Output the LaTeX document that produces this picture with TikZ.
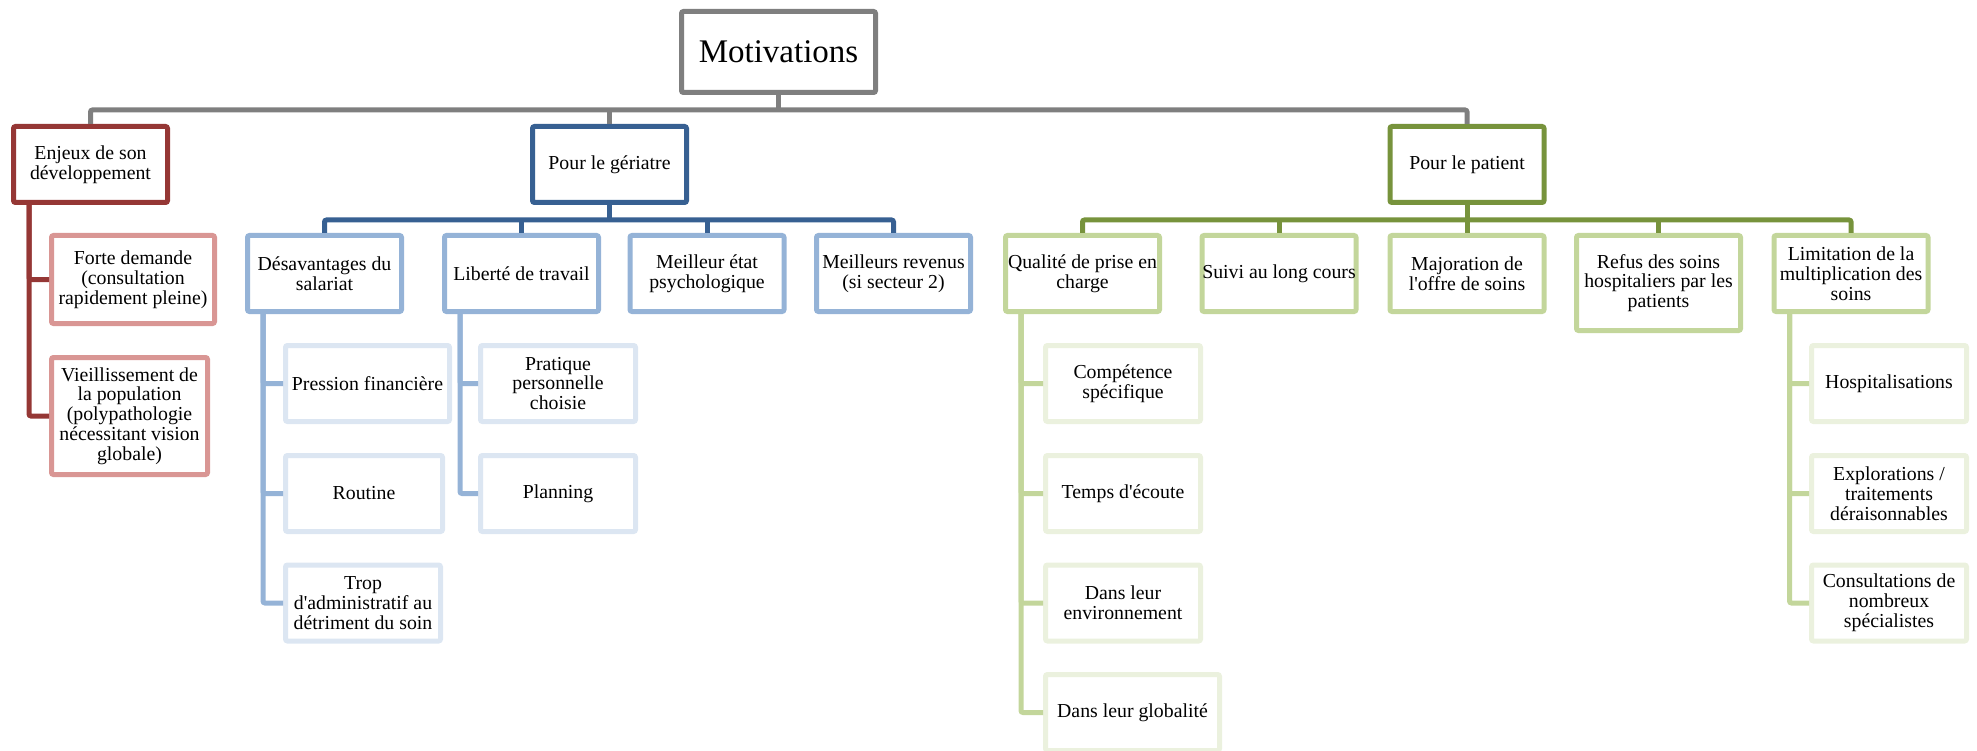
\documentclass[tikz,border=0pt]{standalone}
\usepackage{fontspec}
\setmainfont{Liberation Serif}
\definecolor{rootgray}{HTML}{7F7F7F}
\definecolor{darkred}{HTML}{953735}
\definecolor{lightred}{HTML}{D99694}
\definecolor{darkblue}{HTML}{376092}
\definecolor{midblue}{HTML}{95B3D7}
\definecolor{paleblue}{HTML}{DCE6F2}
\definecolor{darkgreen}{HTML}{77933C}
\definecolor{midgreen}{HTML}{C3D69B}
\definecolor{palegreen}{HTML}{EBF1DE}
\tikzset{my box/.style={draw, rectangle, rounded corners=2pt, line width=5pt, fill=white, align=center, inner xsep=0pt, inner ysep=2pt, font=\fontsize{19.8}{19.8}\selectfont, minimum width=154pt, minimum height=76pt},
my small box/.style={my box, minimum width=155pt, minimum height=76pt},
my link/.style={line width=5pt, rounded corners=2pt},}

\begin{document}
\begin{tikzpicture}[x=1pt,y=-1pt]
\useasboundingbox (0,0) rectangle (1977,751);
\node [my box,draw=rootgray,minimum width=194pt,minimum height=81pt,font=\fontsize{33}{36}\selectfont] (mot) at (778.5, 52) {Motivations};
\node [my box,draw=darkred] (enjeux) at ( 90.5, 164.5) {Enjeux de son\\d\'eveloppement};
\node [my box,draw=darkblue] (geri) at ( 609.5, 164.5) {Pour le gériatre};
\node [my box,draw=darkgreen] (pat) at (1467.0, 164.5) {Pour le patient};
\node [my box,draw=lightred,minimum width=163pt,minimum height=88pt] (forte) at ( 133.0, 279.5) {Forte demande\\(consultation\\rapidement pleine)};
\node [my box,draw=lightred,minimum width=156pt,minimum height=117pt] (vieil) at ( 129.5, 416.0) {Vieillissement de\\la population\\(polypathologie\\nécessitant vision\\globale)};
\node [my box,draw=midblue] (desav) at ( 324.5, 273.5) {Désavantages du\\salariat};
\node [my box,draw=midblue] (liberte) at ( 521.5, 273.5) {Liberté de travail};
\node [my box,draw=midblue] (etat) at ( 707.0, 273.5) {Meilleur état\\psychologique};
\node [my box,draw=midblue] (revenus) at ( 893.5, 273.5) {Meilleurs revenus\\(si secteur 2)};
\node [my box,draw=midgreen] (qualite) at (1082.5, 273.5) {Qualité de prise en\\charge};
\node [my box,draw=midgreen] (suivi) at (1279.0, 273.5) {Suivi au long cours};
\node [my box,draw=midgreen] (major) at (1467.0, 273.5) {Majoration de\\l\textquotesingle offre de soins};
\node [my box,draw=midgreen,minimum width=164pt,minimum height=95pt] (refus) at (1658.5, 283) {Refus des soins\\hospitaliers par les\\patients};
\node [my box,draw=midgreen] (limit) at (1851.0, 273.5) {Limitation de la\\multiplication des\\soins};
\node [my small box,draw=paleblue,minimum width=164pt] (pression) at ( 367.5, 383.5) {Pression financière};
\node [my small box,draw=paleblue,minimum width=157pt] (routine) at ( 364.0, 493.5) {Routine};
\node [my small box,draw=paleblue] (trop) at ( 363.0, 603.0) {Trop\\d\textquotesingle administratif au\\détriment du soin};
\node [my small box,draw=paleblue] (pratique) at ( 558.0, 383.5) {Pratique\\personnelle\\choisie};
\node [my small box,draw=paleblue] (planning) at ( 558.0, 493.5) {Planning};
\node [my small box,draw=palegreen] (compet) at (1123.0, 383.5) {Compétence\\spécifique};
\node [my small box,draw=palegreen] (ecoute) at (1123.0, 493.5) {Temps d\textquotesingle écoute};
\node [my small box,draw=palegreen] (environ) at (1123.0, 603.0) {Dans leur\\environnement};
\node [my small box,draw=palegreen,minimum width=174pt] (global) at (1132.5, 712.5) {Dans leur globalité};
\node [my small box,draw=palegreen] (hospit) at (1889.0, 383.5) {Hospitalisations};
\node [my small box,draw=palegreen] (explor) at (1889.0, 493.5) {Explorations /\\traitements\\déraisonnables};
\node [my small box,draw=palegreen] (consult) at (1889.0, 603.0) {Consultations de\\nombreux\\spécialistes};
% root
\coordinate (hub) at (778.5, 110);
\draw [my link,rootgray] (mot.south) -- (hub);
\draw [my link,rootgray] (enjeux.north) |- (hub) -| (pat.north);
\draw [my link,rootgray] (geri.north) -- (geri.north |- hub);
% enjeux
\draw [my link,darkred] ([xshift=18pt]enjeux.south west) |- (vieil.west);
\draw [my link,darkred] ([xshift=18pt]enjeux.south west) |- (forte.west);
% geriatre
\coordinate (gerihub) at (609.5, 220);
\draw [my link,darkblue] (geri.south) -- (gerihub);
\draw [my link,darkblue] (desav.north) |- (gerihub) -| (revenus.north);
\draw [my link,darkblue] (liberte.north) -- (liberte.north |- gerihub);
\draw [my link,darkblue] (etat.north) -- (etat.north |- gerihub);
\draw [my link,midblue] ([xshift=18pt]desav.south west) |- (trop.west);
\draw [my link,midblue] ([xshift=18pt]desav.south west) |- (pression.west);
\draw [my link,midblue] ([xshift=18pt]desav.south west) |- (routine.west);
\draw [my link,midblue] ([xshift=18pt]liberte.south west) |- (planning.west);
\draw [my link,midblue] ([xshift=18pt]liberte.south west) |- (pratique.west);
% patient
\coordinate (pathub) at (1467, 220);
\draw [my link,darkgreen] (pat.south) -- (pathub);
\draw [my link,darkgreen] (qualite.north) |- (pathub) -| (limit.north);
\draw [my link,darkgreen] (suivi.north) -- (suivi.north |- pathub);
\draw [my link,darkgreen] (major.north) -- (major.north |- pathub);
\draw [my link,darkgreen] (refus.north) -- (refus.north |- pathub);
\draw [my link,midgreen] ([xshift=18pt]qualite.south west) |- (global.west);
\draw [my link,midgreen] ([xshift=18pt]qualite.south west) |- (compet.west);
\draw [my link,midgreen] ([xshift=18pt]qualite.south west) |- (ecoute.west);
\draw [my link,midgreen] ([xshift=18pt]qualite.south west) |- (environ.west);
\draw [my link,midgreen] ([xshift=18pt]limit.south west) |- (consult.west);
\draw [my link,midgreen] ([xshift=18pt]limit.south west) |- (hospit.west);
\draw [my link,midgreen] ([xshift=18pt]limit.south west) |- (explor.west);
\end{tikzpicture}
\end{document}
